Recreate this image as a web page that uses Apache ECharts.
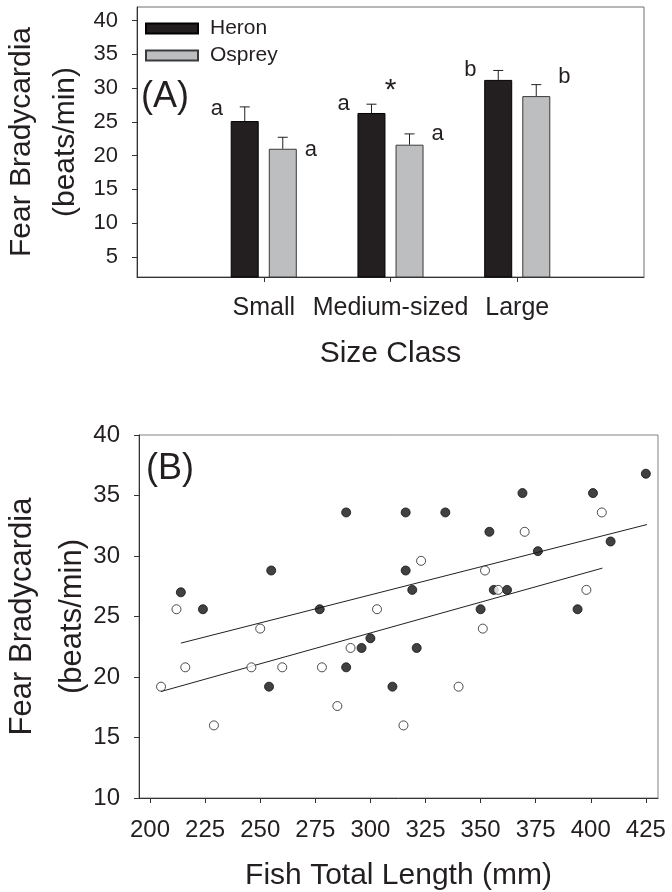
<!DOCTYPE html>
<html><head><meta charset="utf-8">
<script src="https://cdn.jsdelivr.net/npm/echarts@6/dist/echarts.min.js"></script>
<style>html,body{margin:0;padding:0;background:#fff}#c{width:672px;height:892px}</style>
</head><body><div id="c"></div>
<script>
// ---- Panel A data ----
const sizeClasses = ['', 'Small', 'Medium-sized', 'Large', ' '];
const heronMean = [null, 25.1, 26.3, 31.2, null];
const heronSE = [null, 2.1, 1.3, 1.4, null];
const ospreyMean = [null, 21.0, 21.6, 28.8, null];
const ospreySE = [null, 1.7, 1.6, 1.7, null];
const heronLetters = [null, 'a', 'a', 'b', null];
const ospreyLetters = [null, 'a', 'a', 'b', null];
const heronLetterY = [null, 26.9, 27.6, 32.7, null];
const ospreyLetterY = [null, 20.8, 23.2, 31.7, null];
const starText = [null, null, '*', null, null];
const starY = [null, null, 30.6, null, null];
const yTicksA = [5, 10, 15, 20, 25, 30, 35, 40];

// ---- Panel B data ----
const heronLength = [214, 224, 254, 255, 277, 289, 289, 296, 300, 310, 316, 316, 319, 321, 334, 350, 354, 356, 362, 369, 376, 394, 401, 409, 425];
const heronBrady = [27.0, 25.6, 19.2, 28.8, 25.6, 33.6, 20.8, 22.4, 23.2, 19.2, 33.6, 28.8, 27.2, 22.4, 33.6, 25.6, 32.0, 27.2, 27.2, 35.2, 30.4, 25.6, 35.2, 31.2, 36.8];
const ospreyLength = [205, 212, 216, 229, 246, 250, 260, 278, 285, 291, 303, 315, 323, 340, 351, 352, 358, 370, 398, 405];
const ospreyBrady = [19.2, 25.6, 20.8, 16.0, 20.8, 24.0, 20.8, 20.8, 17.6, 22.4, 25.6, 16.0, 29.6, 19.2, 24.0, 28.8, 27.2, 32.0, 27.2, 33.6];
const heronFitX = [214, 425.5];
const heronFitY = [22.8, 32.6];
const ospreyFitX = [205, 405.3];
const ospreyFitY = [18.8, 29.0];
const xTicksB = [200, 225, 250, 275, 300, 325, 350, 375, 400, 425];

const FONT = 'Liberation Sans, Arial, Helvetica, sans-serif';
const INK = '#231f20';
const BAR_OFFSET = 19;
const LETTER_GAP = 28;

const chart = echarts.init(document.getElementById('c'), null, {renderer: 'canvas'});

const errData = [];
const letterData = [];
for (let i = 0; i < sizeClasses.length; i++) {
  if (heronMean[i] != null) errData.push([i, heronMean[i], heronSE[i], -1]);
  if (ospreyMean[i] != null) errData.push([i, ospreyMean[i], ospreySE[i], 1]);
  if (heronLetters[i]) letterData.push([i, heronLetterY[i], -1, heronLetters[i]]);
  if (ospreyLetters[i]) letterData.push([i, ospreyLetterY[i], 1, ospreyLetters[i]]);
  if (starText[i]) letterData.push([i, starY[i], 0, starText[i]]);
}

const option = {
  animation: false,
  backgroundColor: '#fff',
  textStyle: {fontFamily: FONT, color: INK},
  title: [
    {text: '(A)', left: 141, top: 79, padding: 0, textStyle: {fontSize: 36, fontWeight: 'normal', color: INK, fontFamily: FONT}},
    {text: '(B)', left: 146, top: 451, padding: 0, textStyle: {fontSize: 36, fontWeight: 'normal', color: INK, fontFamily: FONT}}
  ],
  legend: {
    data: ['Heron', 'Osprey'],
    orient: 'vertical',
    left: 145, top: 18, padding: 0,
    itemWidth: 52, itemHeight: 10, itemGap: 6,
    icon: 'rect',
    selectedMode: false,
    textStyle: {fontSize: 21, lineHeight: 21, color: INK, fontFamily: FONT, padding: [0, 0, 0, 7]}
  },
  grid: [
    {left: 137, top: 7, width: 507, height: 270, show: true, borderColor: '#6d6e71', borderWidth: 1, containLabel: false, outerBoundsMode: 'none'},
    {left: 139, top: 435, width: 519, height: 363, show: true, borderColor: '#808285', borderWidth: 1, containLabel: false, outerBoundsMode: 'none'}
  ],
  xAxis: [
    {
      type: 'category', gridIndex: 0, data: sizeClasses, boundaryGap: false,
      axisLine: {lineStyle: {color: '#333', width: 1}},
      axisTick: {show: true, length: 5, inside: false, interval: function (idx) { return idx >= 1 && idx <= 3; }, lineStyle: {color: '#333'}},
      axisLabel: {interval: 0, fontSize: 25, margin: 19, color: INK, fontFamily: FONT},
      name: 'Size Class', nameLocation: 'middle', nameGap: 62, nameMoveOverlap: false,
      nameTextStyle: {fontSize: 30, color: INK, fontFamily: FONT},
      splitLine: {show: false}
    },
    {
      type: 'value', gridIndex: 1, min: 195, max: 430.5,
      axisLine: {lineStyle: {color: '#333', width: 1}},
      axisTick: {show: true, length: 5, inside: false, customValues: xTicksB, lineStyle: {color: '#333'}},
      axisLabel: {customValues: xTicksB, fontSize: 24, margin: 20, color: INK, fontFamily: FONT},
      name: 'Fish Total Length (mm)', nameLocation: 'middle', nameGap: 63, nameMoveOverlap: false,
      nameTextStyle: {fontSize: 30, color: INK, fontFamily: FONT},
      splitLine: {show: false}
    }
  ],
  yAxis: [
    {
      type: 'value', gridIndex: 0, min: 2, max: 42,
      axisLine: {show: true, lineStyle: {color: '#333', width: 1}},
      axisTick: {show: true, length: 5, inside: false, customValues: yTicksA, lineStyle: {color: '#333'}},
      axisLabel: {customValues: yTicksA, fontSize: 22, margin: 19, color: INK, fontFamily: FONT},
      name: 'Fear Bradycardia\n(beats/min)', nameLocation: 'middle', nameRotate: 90, nameGap: 49, nameMoveOverlap: false,
      nameTextStyle: {fontSize: 30, lineHeight: 44, color: INK, fontFamily: FONT},
      splitLine: {show: false}
    },
    {
      type: 'value', gridIndex: 1, min: 10, max: 40, interval: 5,
      axisLine: {show: true, lineStyle: {color: '#333', width: 1}},
      axisTick: {show: true, length: 5, inside: false, lineStyle: {color: '#333'}},
      axisLabel: {fontSize: 24, margin: 19, color: INK, fontFamily: FONT},
      name: 'Fear Bradycardia\n(beats/min)', nameLocation: 'middle', nameRotate: 90, nameGap: 42, nameMoveOverlap: false,
      nameTextStyle: {fontSize: 31, lineHeight: 50, color: INK, fontFamily: FONT},
      splitLine: {show: false}
    }
  ],
  series: [
    {
      name: 'Heron', type: 'bar', xAxisIndex: 0, yAxisIndex: 0, data: heronMean,
      barWidth: 28, barGap: '36%', clip: true,
      itemStyle: {color: INK, borderColor: '#000', borderWidth: 1}
    },
    {
      name: 'Osprey', type: 'bar', xAxisIndex: 0, yAxisIndex: 0, data: ospreyMean,
      barWidth: 28, barGap: '36%', clip: true,
      itemStyle: {color: '#bcbec0', borderColor: '#3a3a3a', borderWidth: 1}
    },
    {
      name: 'SE', type: 'custom', xAxisIndex: 0, yAxisIndex: 0, z: 3, data: errData,
      renderItem: function (params, api) {
        const i = api.value(0), m = api.value(1), se = api.value(2), side = api.value(3);
        const p0 = api.coord([i, m]);
        const p1 = api.coord([i, m + se]);
        const x = p0[0] + side * BAR_OFFSET;
        const st = {stroke: INK, lineWidth: 1};
        return {type: 'group', children: [
          {type: 'line', shape: {x1: x, y1: p0[1], x2: x, y2: p1[1]}, style: st},
          {type: 'line', shape: {x1: x - 5, y1: p1[1], x2: x + 5, y2: p1[1]}, style: st}
        ]};
      }
    },
    {
      name: 'letters', type: 'custom', xAxisIndex: 0, yAxisIndex: 0, z: 4, data: letterData,
      renderItem: function (params, api) {
        const item = letterData[params.dataIndex];
        const i = item[0], y = item[1], side = item[2], txt = item[3];
        const p = api.coord([i, y]);
        const isStar = txt === '*';
        const dx = side === 0 ? 0 : side * (BAR_OFFSET + LETTER_GAP);
        return {type: 'text', x: p[0] + dx, y: p[1] + (isStar ? 7 : 0),
          style: {text: txt, fontSize: isStar ? 30 : 22, fontFamily: FONT, fill: INK, align: 'center', verticalAlign: 'middle'}};
      }
    },
    {
      name: 'Heron fish', type: 'scatter', xAxisIndex: 1, yAxisIndex: 1,
      data: heronLength.map((x, k) => [x, heronBrady[k]]),
      symbol: 'circle', symbolSize: 9,
      itemStyle: {color: '#111', borderColor: '#111', borderWidth: 1}
    },
    {
      name: 'Osprey fish', type: 'scatter', xAxisIndex: 1, yAxisIndex: 1,
      data: ospreyLength.map((x, k) => [x, ospreyBrady[k]]),
      symbol: 'circle', symbolSize: 9,
      itemStyle: {color: '#fff', borderColor: INK, borderWidth: 1}
    },
    {
      name: 'Heron fit', type: 'line', xAxisIndex: 1, yAxisIndex: 1,
      data: heronFitX.map((x, k) => [x, heronFitY[k]]),
      symbol: 'none', lineStyle: {color: INK, width: 1}, z: 1
    },
    {
      name: 'Osprey fit', type: 'line', xAxisIndex: 1, yAxisIndex: 1,
      data: ospreyFitX.map((x, k) => [x, ospreyFitY[k]]),
      symbol: 'none', lineStyle: {color: INK, width: 1}, z: 1
    }
  ]
};
chart.setOption(option);
</script>
</body></html>
